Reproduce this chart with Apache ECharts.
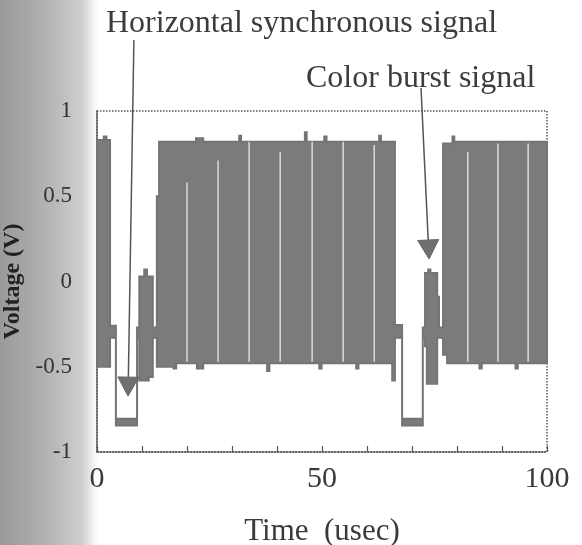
<!DOCTYPE html>
<html>
<head>
<meta charset="utf-8">
<script src="https://cdn.jsdelivr.net/npm/echarts@6/dist/echarts.min.js"></script>
<style>
html, body { margin: 0; padding: 0; background: #fff; }
#chart { width: 582px; height: 545px; }
</style>
</head>
<body>
<div id="chart"></div>
<script>
// upper envelope of the trace (time in usec, voltage in V)
var upperTime = [0, 1.5, 1.5, 2.1, 2.1, 2.9, 2.9, 4.2,
  4.2, 8.9, 8.9, 9.4,
  9.4, 10.5, 10.5, 11.1, 11.1, 12.4, 12.4, 13.3,
  13.3, 13.8, 13.8, 22.0, 22.0, 23.6, 23.6, 31.6, 31.6, 32.0, 32.0,
  46.2, 46.2, 46.6, 46.6, 50.5, 50.5, 51.0, 51.0, 62.7, 62.7, 63.1, 63.1, 66.2, 66.2, 67.8,
  67.8, 72.4, 72.4, 72.9,
  72.9, 73.6, 73.6, 74.1, 74.1, 75.6, 75.6, 76.0, 76.0, 76.9,
  76.9, 79.0, 79.0, 79.4, 79.4, 100];
var upperVolt = [0.83, 0.83, 0.85, 0.85, 0.83, 0.83, -0.26, -0.26,
  -0.805, -0.805, -0.27, -0.27,
  0.03, 0.03, 0.07, 0.07, 0.03, 0.03, -0.27, -0.27,
  0.5, 0.5, 0.82, 0.82, 0.84, 0.84, 0.82, 0.82, 0.855, 0.855, 0.82,
  0.82, 0.875, 0.875, 0.82, 0.82, 0.85, 0.85, 0.82, 0.82, 0.855, 0.855, 0.82, 0.82, -0.255, -0.255,
  -0.805, -0.805, -0.27, -0.27,
  0.05, 0.05, 0.07, 0.07, 0.05, 0.05, -0.09, -0.09, -0.27, -0.27,
  0.81, 0.81, 0.85, 0.85, 0.82, 0.82];

// lower envelope of the trace
var lowerTime = [0, 2.9, 2.9, 4.2,
  4.2, 8.9, 8.9, 9.4,
  9.4, 11.5, 11.5, 12.4, 12.4, 13.3,
  13.3, 17.0, 17.0, 17.6, 17.6, 22.2, 22.2, 23.6, 23.6, 37.8, 37.8, 38.3, 38.3,
  49.4, 49.4, 49.9, 49.9, 57.6, 57.6, 58.1, 58.1, 65.6, 65.6, 66.2, 66.2, 67.8,
  67.8, 72.4, 72.4, 72.9,
  72.9, 73.3, 73.3, 75.6, 75.6, 76.9,
  76.9, 77.8, 77.8, 85.0, 85.0, 85.5, 85.5, 93.0, 93.0, 93.5, 93.5, 100];
var lowerVolt = [-0.5, -0.5, -0.33, -0.33,
  -0.845, -0.845, -0.33, -0.33,
  -0.58, -0.58, -0.56, -0.56, -0.33, -0.33,
  -0.5, -0.5, -0.51, -0.51, -0.48, -0.48, -0.51, -0.51, -0.48, -0.48, -0.525, -0.525, -0.48,
  -0.48, -0.51, -0.51, -0.48, -0.48, -0.51, -0.51, -0.48, -0.48, -0.58, -0.58, -0.33, -0.33,
  -0.845, -0.845, -0.33, -0.33,
  -0.38, -0.38, -0.6, -0.6, -0.33, -0.33,
  -0.43, -0.43, -0.48, -0.48, -0.51, -0.51, -0.48, -0.48, -0.51, -0.51, -0.48, -0.48];

// thin light gaps inside the dense trace
var gapTime = [20.0, 26.9, 33.8, 40.7, 47.8, 54.7, 61.6, 82.4, 89.1, 95.8];
var gapTop = [0.58, 0.71, 0.82, 0.76, 0.82, 0.82, 0.8, 0.76, 0.81, 0.81];
var gapBottom = [-0.47, -0.47, -0.47, -0.47, -0.47, -0.47, -0.47, -0.47, -0.47, -0.47];

var xLabels = [0, 50, 100];
var yLabels = [-1, -0.5, 0, 0.5, 1];

// annotations: text and arrows (arrow ends in data units)
var noteText = ['Horizontal synchronous signal', 'Color burst signal'];
var noteLeft = [106, 306];
var noteMid = [24, 79];
var arrowFrom = [[8.2, 1.416], [72.0, 1.135]];
var arrowTo = [[6.9, -0.672], [73.8, 0.132]];

var serif = "'Liberation Serif', 'Times New Roman', serif";
var chart = echarts.init(document.getElementById('chart'));

function renderEnvelope(params, api) {
  var pts = [];
  for (var i = 0; i < upperTime.length; i++) {
    pts.push(api.coord([upperTime[i], upperVolt[i]]));
  }
  for (var j = lowerTime.length - 1; j >= 0; j--) {
    pts.push(api.coord([lowerTime[j], lowerVolt[j]]));
  }
  return {
    type: 'polygon',
    shape: { points: pts },
    style: { fill: '#7b7b7b', stroke: '#747474', lineWidth: 2, lineJoin: 'miter' }
  };
}

function renderGap(params, api) {
  var a = api.coord([api.value(0), api.value(1)]);
  var b = api.coord([api.value(0), api.value(2)]);
  return {
    type: 'line',
    shape: { x1: a[0], y1: a[1], x2: b[0], y2: b[1] },
    style: { stroke: '#f2f2f2', lineWidth: 1.2 }
  };
}

var gapData = gapTime.map(function (t, i) {
  return [t, gapTop[i], gapBottom[i]];
});

var dotted = { color: '#555', width: 1.5, type: 'dotted' };

chart.setOption({
  animation: false,
  backgroundColor: '#fff',
  grid: {
    left: 97, right: 35, top: 111, bottom: 93,
    outerBoundsMode: 'none',
    containLabel: false,
    show: true,
    borderColor: '#555',
    borderWidth: 1.5,
    borderType: 'dotted',
    backgroundColor: 'transparent'
  },
  xAxis: {
    type: 'value',
    min: 0, max: 100, interval: 10,
    axisLine: { show: true, onZero: false, lineStyle: dotted },
    splitLine: { show: false },
    axisTick: {
      show: true, inside: true, length: 6,
      lineStyle: { color: '#555', width: 1.2 }
    },
    axisLabel: {
      margin: 12,
      fontFamily: serif, fontSize: 30, color: '#3a3a3a',
      formatter: function (v) {
        return xLabels.indexOf(v) >= 0 ? String(v) : '';
      }
    },
    name: 'Time  (usec)',
    nameLocation: 'middle',
    nameGap: 64,
    nameTextStyle: { fontFamily: serif, fontSize: 31, color: '#3a3a3a' }
  },
  yAxis: {
    type: 'value',
    min: -1, max: 1, interval: 0.5,
    axisLine: { show: true, onZero: false, lineStyle: dotted },
    axisTick: { show: false },
    splitLine: { show: false },
    axisLabel: {
      margin: 25,
      fontFamily: serif, fontSize: 23, color: '#333',
      formatter: function (v) {
        return yLabels.indexOf(v) >= 0 ? String(v) : '';
      }
    },
    name: 'Voltage (V)',
    nameLocation: 'middle',
    nameGap: 70,
    nameTextStyle: { fontFamily: serif, fontSize: 24, fontWeight: 'bold', color: '#222' }
  },
  series: [
    {
      type: 'custom',
      coordinateSystem: 'cartesian2d',
      renderItem: renderEnvelope,
      data: [[0, 0]],
      silent: true,
      z: 2
    },
    {
      type: 'custom',
      coordinateSystem: 'cartesian2d',
      renderItem: renderGap,
      data: gapData,
      encode: { x: 0, y: [1, 2] },
      silent: true,
      z: 3
    }
  ]
});

// scanned-page shading on the left side, annotation text and arrows
var graphics = [{
  type: 'rect',
  z: -10,
  silent: true,
  shape: { x: 0, y: 0, width: 99, height: 545 },
  style: {
    fill: new echarts.graphic.LinearGradient(0, 0, 1, 0, [
      { offset: 0, color: '#9a9a9a' },
      { offset: 0.3, color: '#a8a8a8' },
      { offset: 0.6, color: '#bcbcbc' },
      { offset: 0.82, color: '#cecece' },
      { offset: 0.9, color: '#e4e4e4' },
      { offset: 0.96, color: '#f9f9f9' },
      { offset: 1, color: '#ffffff' }
    ])
  }
}];

noteText.forEach(function (txt, i) {
  graphics.push({
    type: 'text',
    z: 10,
    style: {
      text: txt, x: noteLeft[i], y: noteMid[i],
      font: '32px ' + serif, fill: '#3c3c3c',
      textVerticalAlign: 'middle'
    }
  });
});

arrowFrom.forEach(function (from, i) {
  var p0 = chart.convertToPixel({ gridIndex: 0 }, from);
  var p1 = chart.convertToPixel({ gridIndex: 0 }, arrowTo[i]);
  var dx = p1[0] - p0[0], dy = p1[1] - p0[1];
  var len = Math.sqrt(dx * dx + dy * dy);
  var ux = dx / len, uy = dy / len;
  var headLen = 19, halfW = 10.5;
  var bx = p1[0] - ux * headLen, by = p1[1] - uy * headLen;
  graphics.push({
    type: 'line',
    z: 10,
    shape: { x1: p0[0], y1: p0[1], x2: bx, y2: by },
    style: { stroke: '#555', lineWidth: 1.5 }
  });
  graphics.push({
    type: 'polygon',
    z: 10,
    shape: { points: [
      [p1[0], p1[1]],
      [bx - uy * halfW, by + ux * halfW],
      [bx + uy * halfW, by - ux * halfW]
    ] },
    style: { fill: '#6f6f6f', stroke: '#666', lineWidth: 1 }
  });
});

chart.setOption({ graphic: graphics });
</script>
</body>
</html>
